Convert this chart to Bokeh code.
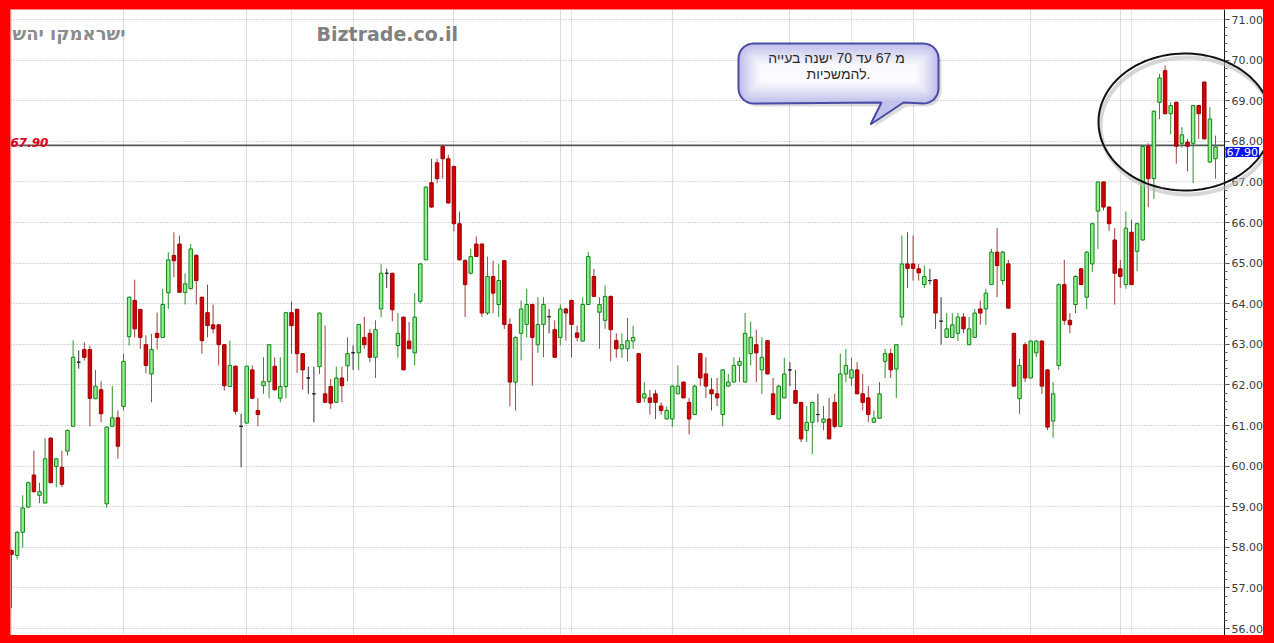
import numpy as np
from bokeh.plotting import figure
from bokeh.models import (Range1d, FixedTicker, Grid, Span, Label, PolyAnnotation,
                          PrintfTickFormatter, ColumnDataSource, GlobalInlineStyleSheet)
from bokeh.embed import file_html
from bokeh.resources import INLINE

# ---------------- data ----------------
opens = [57.92, 57.80, 58.37, 58.99, 59.78, 59.28, 59.09, 60.69, 59.99, 59.97,
         60.37, 60.98, 62.56, 62.87, 62.87, 61.66, 61.88, 59.07, 60.98, 61.19,
         61.47, 63.19, 64.08, 63.86, 62.99, 62.27, 63.27, 63.17, 64.27, 65.19,
         65.47, 64.28, 64.37, 65.19, 64.16, 63.78, 63.48, 63.48, 62.99, 61.96,
         62.46, 60.98, 61.06, 62.37, 61.37, 61.98, 62.08, 62.46, 61.67, 61.96,
         63.78, 63.86, 62.77, 62.17, 61.78, 62.45, 61.78, 61.96, 61.57, 62.17,
         62.47, 62.79, 62.79, 63.17, 63.27, 62.68, 63.87, 64.75, 64.75, 62.97,
         63.67, 63.08, 62.79, 64.06, 65.08, 66.98, 67.47, 67.87, 67.57, 67.38,
         65.97, 65.06, 64.75, 65.47, 65.47, 63.77, 64.67, 63.98, 65.06, 63.49,
         62.07, 63.27, 63.49, 63.98, 62.99, 63.49, 63.68, 63.36, 63.17, 63.87,
         64.08, 63.28, 63.08, 63.98, 64.67, 63.79, 63.59, 64.18, 63.09, 62.89,
         62.89, 63.08, 62.77, 61.68, 61.68, 61.78, 61.48, 61.16, 61.16, 61.78,
         62.07, 61.57, 61.27, 62.77, 62.27, 61.88, 61.78, 61.27, 61.97, 62.07,
         62.48, 62.07, 62.77, 62.99, 62.37, 63.09, 61.78, 61.16, 61.68, 62.37,
         61.86, 61.57, 60.88, 61.08, 61.27, 61.08, 61.16, 61.57, 60.98, 62.27,
         62.17, 62.37, 61.78, 61.68, 61.08, 61.18, 62.58, 62.77, 62.39, 63.67,
         64.98, 64.98, 64.86, 64.47, 64.57, 64.59, 63.57, 63.17, 63.17, 63.27,
         63.67, 62.99, 63.17, 63.87, 63.87, 64.47, 65.27, 64.57, 64.98, 63.27,
         61.66, 62.99, 62.17, 62.79, 63.08, 62.37, 61.11, 62.48, 64.47, 63.59,
         63.98, 64.86, 64.16, 64.98, 66.28, 67.00, 66.38, 65.57, 64.86, 64.47,
         65.76, 65.29, 65.57, 67.88, 67.08, 68.96, 69.74, 68.68, 68.96, 67.95,
         67.98, 67.95, 68.88, 69.46, 67.49, 67.57]
highs = [57.95, 58.40, 59.28, 59.62, 60.38, 59.59, 60.69, 60.70, 60.20, 60.38,
         60.90, 63.10, 62.85, 63.05, 62.97, 62.37, 62.09, 60.98, 61.97, 61.37,
         62.77, 64.18, 64.59, 63.87, 63.22, 63.26, 63.78, 64.37, 65.27, 65.76,
         65.68, 64.75, 65.47, 65.22, 64.17, 64.47, 63.98, 63.50, 63.00, 63.09,
         62.48, 61.29, 62.48, 62.48, 61.67, 62.68, 63.00, 62.68, 62.68, 63.80,
         64.06, 63.88, 62.78, 62.45, 62.45, 63.78, 63.46, 62.15, 62.45, 62.45,
         63.17, 62.97, 63.50, 63.68, 63.38, 63.59, 64.97, 64.86, 64.76, 63.77,
         63.68, 63.55, 64.26, 65.00, 66.90, 67.57, 67.57, 67.92, 67.67, 67.40,
         66.27, 65.10, 65.35, 65.66, 65.48, 65.16, 65.06, 64.97, 65.07, 63.64,
         63.20, 64.08, 64.37, 64.00, 64.16, 64.16, 63.87, 63.59, 63.98, 63.90,
         64.10, 63.46, 64.16, 65.27, 64.86, 64.16, 64.45, 64.20, 63.27, 63.27,
         63.65, 63.46, 62.78, 62.07, 61.88, 61.88, 61.57, 61.47, 62.00, 62.48,
         62.08, 61.68, 62.00, 62.78, 62.68, 62.17, 62.17, 62.38, 62.27, 62.68,
         62.68, 63.77, 63.56, 63.36, 63.17, 63.10, 62.17, 62.00, 62.67, 62.56,
         62.37, 61.58, 61.48, 61.58, 61.78, 61.48, 61.68, 61.78, 62.77, 62.89,
         62.67, 62.56, 62.27, 61.97, 61.37, 62.07, 62.89, 62.89, 63.00, 65.68,
         65.76, 65.68, 64.98, 64.94, 64.86, 64.60, 64.16, 63.77, 63.77, 63.77,
         63.77, 63.67, 63.87, 64.08, 64.37, 65.35, 65.86, 65.30, 65.08, 63.28,
         62.64, 63.05, 63.10, 63.10, 63.10, 62.38, 62.07, 64.50, 65.08, 63.77,
         64.70, 64.88, 65.30, 66.00, 67.00, 67.00, 66.40, 65.86, 65.08, 66.27,
         66.07, 66.00, 67.90, 67.95, 68.76, 69.66, 69.87, 68.96, 68.98, 68.35,
         68.06, 68.90, 68.90, 69.47, 68.84, 68.14]
lows = [56.50, 57.70, 58.00, 58.98, 59.35, 59.09, 59.08, 59.59, 59.48, 59.48,
        60.26, 60.98, 62.40, 62.60, 60.98, 61.65, 61.08, 58.97, 60.97, 60.18,
        61.37, 62.97, 63.17, 62.89, 62.29, 61.57, 62.87, 63.15, 63.87, 64.65,
        64.27, 63.98, 64.35, 63.98, 62.77, 63.17, 63.27, 62.48, 61.86, 61.95,
        61.27, 59.97, 61.05, 61.66, 60.98, 61.78, 61.67, 61.86, 61.57, 61.67,
        62.77, 62.29, 61.88, 61.78, 61.08, 62.27, 61.56, 61.41, 61.56, 61.57,
        62.09, 62.37, 62.37, 62.89, 62.56, 62.17, 63.67, 64.39, 63.57, 62.67,
        62.36, 62.88, 62.48, 64.00, 65.07, 66.36, 66.97, 67.08, 66.47, 65.78,
        65.07, 63.67, 64.72, 65.15, 63.67, 63.72, 63.77, 63.67, 63.38, 61.47,
        61.37, 62.60, 63.17, 61.98, 62.79, 62.68, 63.27, 62.67, 62.97, 63.09,
        62.68, 63.07, 63.07, 63.97, 64.17, 62.89, 63.38, 62.58, 62.67, 62.67,
        62.58, 62.89, 61.56, 61.57, 61.27, 61.16, 61.27, 61.15, 60.96, 61.77,
        61.67, 60.78, 61.26, 61.97, 61.68, 61.37, 61.48, 60.98, 61.96, 62.06,
        62.07, 62.06, 62.48, 62.07, 61.78, 62.26, 61.26, 61.15, 61.67, 61.97,
        61.54, 60.59, 60.59, 60.30, 61.08, 60.88, 60.66, 60.93, 60.97, 62.07,
        61.97, 61.77, 61.37, 61.08, 61.07, 61.17, 62.17, 62.17, 61.68, 63.46,
        64.39, 64.57, 64.57, 64.39, 64.47, 63.38, 62.99, 63.16, 63.16, 63.08,
        63.27, 62.98, 63.16, 63.48, 63.48, 64.46, 64.16, 64.47, 63.88, 61.96,
        61.29, 62.07, 62.16, 62.68, 61.78, 60.89, 60.70, 62.37, 63.48, 63.27,
        63.77, 64.46, 63.87, 64.78, 65.35, 66.30, 65.79, 63.98, 64.39, 64.37,
        64.46, 64.80, 65.55, 66.38, 66.58, 68.55, 68.66, 68.18, 67.45, 67.84,
        67.26, 66.97, 68.06, 68.05, 67.47, 67.08]
closes = [57.82, 58.37, 58.97, 59.59, 59.37, 59.37, 60.18, 59.59, 60.18, 59.55,
          60.88, 62.68, 62.56, 62.68, 61.67, 61.97, 61.29, 60.96, 61.19, 60.49,
          62.58, 64.16, 63.38, 63.17, 62.48, 62.87, 63.17, 63.98, 65.08, 65.06,
          64.28, 64.49, 65.35, 64.57, 63.09, 63.46, 63.38, 62.99, 61.98, 62.48,
          61.35, 60.98, 62.46, 61.67, 61.27, 62.08, 62.99, 61.88, 61.96, 63.78,
          63.46, 62.77, 62.37, 62.17, 61.78, 63.77, 61.57, 61.55, 62.17, 61.98,
          62.77, 62.79, 63.49, 62.99, 62.68, 63.36, 64.75, 64.75, 63.85, 63.27,
          62.37, 62.89, 63.67, 64.98, 66.87, 66.38, 67.08, 67.57, 66.48, 65.97,
          65.08, 64.47, 65.16, 65.16, 63.77, 64.67, 64.26, 64.57, 63.49, 62.07,
          63.17, 63.87, 63.98, 63.17, 63.49, 63.98, 63.68, 62.68, 63.87, 63.77,
          63.49, 63.17, 63.98, 65.16, 64.18, 63.98, 64.18, 63.36, 62.89, 62.99,
          63.09, 63.17, 61.57, 61.78, 61.57, 61.57, 61.37, 61.37, 61.97, 61.97,
          61.68, 61.16, 61.97, 62.17, 61.97, 61.78, 61.68, 62.37, 62.07, 62.48,
          62.58, 63.27, 63.17, 62.79, 62.68, 62.27, 61.27, 61.97, 62.27, 62.37,
          61.55, 60.67, 61.08, 61.57, 61.27, 61.16, 60.67, 60.98, 62.27, 62.48,
          62.37, 61.78, 61.57, 61.27, 61.18, 61.78, 62.77, 62.37, 62.99, 64.98,
          64.87, 64.87, 64.76, 64.67, 64.57, 63.77, 63.57, 63.38, 63.48, 63.67,
          63.38, 63.38, 63.77, 63.77, 64.26, 65.27, 64.94, 65.27, 63.89, 61.97,
          62.48, 62.17, 63.08, 63.08, 61.97, 60.96, 61.78, 64.47, 63.59, 63.48,
          64.67, 64.47, 65.27, 65.97, 67.00, 66.38, 65.97, 64.75, 64.67, 65.86,
          64.47, 65.97, 67.87, 67.08, 68.74, 69.56, 68.68, 68.88, 67.88, 68.16,
          67.88, 68.88, 68.68, 68.06, 68.55, 67.86]
month_starts = [20, 42, 61, 79, 98, 118, 139, 161, 182, 198]   # vertical grid lines (bar index)
price_ticks = list(range(56, 72))
last_price = 67.90
title_text = "ישראמקו יהש"
site_text = "Biztrade.co.il"
note_line1 = "מ 67 עד 70 ישנה  בעייה"
note_line2 = "להמשכיות."

# ---------------- layout helpers (page pixels -> data) ----------------
PAD_L, PAD_T = 10, 9          # page offset of the figure (red frame around it)
AXIS_PX = 1224                # page x of the price axis line
RIGHT_PX = 1263               # page x where the red frame starts on the right

def fx(px):
    return (px - 11.0) / 5.6

def fy(py):
    return 71.0 - (py - 19.0) / 40.6

p = figure(width=RIGHT_PX - PAD_L, height=626, output_backend="svg", toolbar_location=None,
           x_range=Range1d(fx(PAD_L), fx(RIGHT_PX)), y_range=Range1d(fy(635), fy(PAD_T)),
           x_axis_location=None, y_axis_location="right",
           min_border_left=0, min_border_top=0, min_border_bottom=0, min_border_right=0)
p.outline_line_color = None
p.background_fill_color = "white"
p.border_fill_color = "white"
p.stylesheets = [GlobalInlineStyleSheet(css=(
    "html, body { background-color: #fe0000 !important; } "
    f"body {{ padding: {PAD_T}px 0 0 {PAD_L}px !important; margin: 0 !important; "
    "box-sizing: border-box; overflow: hidden; }"))]

# axis (drawn at a fixed x inside the frame, labels to its right)
ax = p.yaxis[0]
ax.fixed_location = fx(AXIS_PX)
ax.ticker = FixedTicker(ticks=price_ticks,
                        minor_ticks=[round(v, 2) for v in np.arange(56, 71.001, 0.2)])
ax.formatter = PrintfTickFormatter(format="%.2f")
ax.major_label_text_font = "DejaVu Sans"
ax.major_label_text_font_size = "11px"
ax.major_label_text_color = "#3a3a3a"
ax.major_label_standoff = 2
ax.major_tick_in = 0
ax.major_tick_out = 5
ax.minor_tick_in = 0
ax.minor_tick_out = 3
ax.axis_line_color = "#111111"
ax.major_tick_line_color = "#444444"
ax.minor_tick_line_color = "#666666"

p.ygrid.ticker = FixedTicker(ticks=price_ticks)
p.ygrid.grid_line_color = "#b0b0b0"
p.ygrid.grid_line_dash = "1 2"
vgrid = Grid(dimension=0, ticker=FixedTicker(ticks=month_starts),
             grid_line_color="#b8b8b8", grid_line_dash="1 1")
p.add_layout(vgrid)

# price line
p.add_layout(Span(location=last_price, dimension="width", line_color="#555555",
                  line_width=1.6, level="underlay"))

# white strip behind the axis labels (hides grid lines right of the axis)
p.quad(left=fx(AXIS_PX), right=fx(RIGHT_PX + 2), bottom=fy(640), top=fy(0),
       fill_color="white", line_color=None)

# candles
n = len(opens)
idx = list(range(n))
body_top, body_bot, fillc, linec, wickc = [], [], [], [], []
for o, c in zip(opens, closes):
    body_top.append(max(o, c))
    body_bot.append(min(o, c))
    if c > o:
        fillc.append("#8ef08e"); linec.append("#17801a"); wickc.append("#2f8f2f")
    elif c < o:
        fillc.append("#d40000"); linec.append("#9a0000"); wickc.append("#a03c3c")
    else:
        fillc.append("#222222"); linec.append("#222222"); wickc.append("#333333")
src = ColumnDataSource(dict(x=idx, o=opens, h=highs, l=lows, c=closes,
                            top=body_top, bot=body_bot, fill=fillc, line=linec, wick=wickc))
p.segment(x0="x", y0="l", x1="x", y1="h", source=src, line_color="wick", line_width=1)
p.vbar(x="x", width=0.62, top="top", bottom="bot", source=src,
       fill_color="fill", line_color="line", line_width=1)

# labels
p.add_layout(Label(x=fx(12), y=fy(33), text=title_text, text_font="DejaVu Sans",
                   text_font_style="bold", text_font_size="18px", text_color="#8c8c8c",
                   text_baseline="middle", text_align="left"))
p.add_layout(Label(x=fx(316), y=fy(33), text=site_text, text_font="DejaVu Sans",
                   text_font_style="bold", text_font_size="19px", text_color="#808080",
                   text_baseline="middle", text_align="left"))
p.add_layout(Label(x=fx(10), y=fy(142), text=f"{last_price:.2f}", text_font="DejaVu Sans",
                   text_font_style="bold italic", text_font_size="12px", text_color="#e0001a",
                   text_baseline="alphabetic", text_align="left"))

# speech bubble
def rrect(L, T, R, B, r, tail=None):
    pts = []
    def arc(cx, cy, a0, a1):
        for a in np.linspace(a0, a1, 8):
            pts.append((cx + r * np.cos(a), cy + r * np.sin(a)))
    arc(L + r, T + r, np.pi, 1.5 * np.pi)
    arc(R - r, T + r, 1.5 * np.pi, 2 * np.pi)
    arc(R - r, B - r, 0, 0.5 * np.pi)
    if tail:
        pts.extend(tail)
    arc(L + r, B - r, 0.5 * np.pi, np.pi)
    xs = [fx(a) for a, b in pts]
    ys = [fy(b) for a, b in pts]
    return xs, ys

tail = [(903, 102), (870, 124), (881, 102)]
sx, sy = rrect(741, 46, 941, 106, 15, [(906, 106), (873, 127), (884, 106)])
p.patch(sx, sy, fill_color="#9a9a9a", fill_alpha=0.35, line_color=None)
bx, by = rrect(738, 43, 938, 103, 15, tail)
p.patch(bx, by, fill_color="#c2c2ec", line_color=None)
shades = ["#cacaef", "#d3d3f2", "#dcdcf5", "#e5e5f8", "#ededfa", "#f4f4fc", "#fafaff"]
for k, col in enumerate(shades):
    d = 3 * (k + 1)
    ix, iy = rrect(738 + d, 43 + d, 938 - d, 103 - d, max(15 - d, 3))
    p.patch(ix, iy, fill_color=col, line_color=None)
p.patch(bx, by, fill_alpha=0, line_color="#4a4aa4", line_width=2)
p.add_layout(Label(x=fx(838), y=fy(57), text=note_line1, text_font="Liberation Sans",
                   text_font_size="14px", text_color="#2a2a2a",
                   text_baseline="middle", text_align="center"))
p.add_layout(Label(x=fx(838), y=fy(73), text=note_line2, text_font="Liberation Sans",
                   text_font_size="14px", text_color="#2a2a2a",
                   text_baseline="middle", text_align="center"))

# ellipse around the last bars
t = np.linspace(0, 2 * np.pi, 120)
ecx, ecy, ea, eb = 1184.5, 121.5, 86.5, 68.5
p.add_layout(PolyAnnotation(xs=[fx(ecx + 2 + ea * np.cos(a)) for a in t],
                            ys=[fy(ecy + 4 + eb * np.sin(a)) for a in t],
                            fill_alpha=0, line_color="#bcbcbc", line_width=4, line_alpha=0.6))
p.add_layout(PolyAnnotation(xs=[fx(ecx + ea * np.cos(a)) for a in t],
                            ys=[fy(ecy + eb * np.sin(a)) for a in t],
                            fill_alpha=0, line_color="#111111", line_width=2, line_alpha=1.0))

# price tag on the axis (its top sits on the price line)
p.add_layout(Label(x=fx(AXIS_PX + 1), y=fy(151.5), text=f"{last_price:.2f}",
                   text_font="DejaVu Sans", text_font_size="11px", text_color="white",
                   background_fill_color="#0a14f0", text_baseline="middle",
                   text_align="left", padding=1))

open("out.html", "w").write(file_html(p, INLINE))
